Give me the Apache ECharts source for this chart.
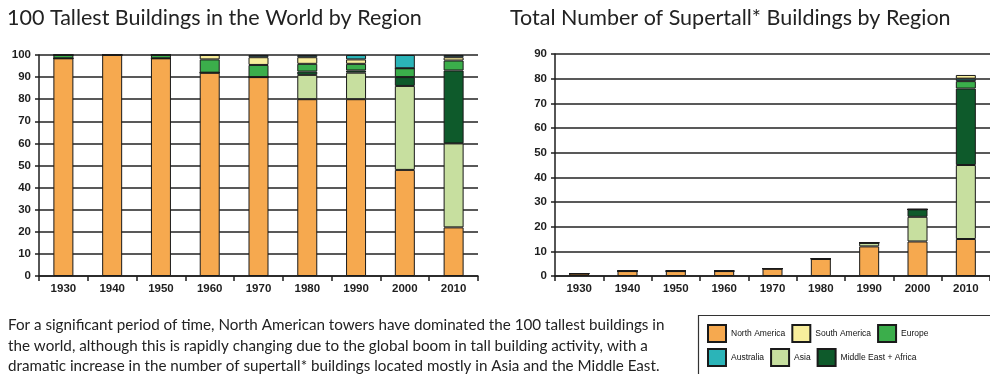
<!DOCTYPE html>
<html>
<head>
<meta charset="utf-8">
<script src="https://cdn.jsdelivr.net/npm/echarts@6/dist/echarts.min.js"></script>
<style>
  html, body { margin: 0; padding: 0; background: #fff; }
  #chart { width: 990px; height: 374px; }
</style>
</head>
<body>
<div id="chart"></div>
<script>
// Decades shown on both charts
const decades = ['1930', '1940', '1950', '1960', '1970', '1980', '1990', '2000', '2010'];

// Share (%) of the 100 tallest buildings, by region
const shareNorthAmerica = [98.5, 100, 98.5, 92, 90, 80, 80, 48, 22];
const shareAsia         = [0, 0, 0, 0, 0, 11, 12, 38, 38];
const shareMiddleEast   = [0, 0, 0, 0, 0, 1.5, 1, 4, 33];
const shareEurope       = [1.5, 0, 1.5, 6, 5.5, 3.5, 3, 4, 4.5];
const shareSouthAmerica = [0, 0, 0, 2, 3.5, 3, 2, 0, 1.5];
const shareAustralia    = [0, 0, 0, 0, 1, 1, 2, 6, 1];

// Number of supertall buildings, by region
const countNorthAmerica = [1, 2, 2, 2, 3, 7, 12, 14, 15];
const countAsia         = [0, 0, 0, 0, 0, 0, 1.5, 10, 30];
const countMiddleEast   = [0, 0, 0, 0, 0, 0, 0, 3, 31];
const countEurope       = [0, 0, 0, 0, 0, 0, 0, 0, 3];
const countAustralia    = [0, 0, 0, 0, 0, 0, 0, 0, 1];
const countSouthAmerica = [0, 0, 0, 0, 0, 0, 0, 0, 1.5];

const shareTicks = [0, 10, 20, 30, 40, 50, 60, 70, 80, 90, 100];
const countTicks = [0, 10, 20, 30, 40, 50, 60, 70, 80, 90];

const regions = {
  na:  { name: 'North America',        color: '#F6A94F' },
  sa:  { name: 'South America',        color: '#F8EE9C' },
  eu:  { name: 'Europe',               color: '#3BAE4B' },
  au:  { name: 'Australia',            color: '#2BB4B8' },
  as:  { name: 'Asia',                 color: '#C7DF9F' },
  me:  { name: 'Middle East + Africa', color: '#0E5A2B' }
};

const titleLeft = '100 Tallest Buildings in the World by Region';
const titleRight = 'Total Number of Supertall* Buildings by Region';
const noteLines = [
  'For a significant period of time, North American towers have dominated the 100 tallest buildings in',
  'the world, although this is rapidly changing due to the global boom in tall building activity, with a',
  'dramatic increase in the number of supertall* buildings located mostly in Asia and the Middle East.'
];

const ink = '#1e1e1e';
const axisFont = { color: ink, fontFamily: 'Liberation Sans, Arial, sans-serif', fontWeight: 'bold', fontSize: 11.5 };

function bar(key, data, axis, stack) {
  return {
    type: 'bar',
    name: regions[key].name,
    data: data,
    xAxisIndex: axis,
    yAxisIndex: axis,
    stack: stack,
    barWidth: 20,
    itemStyle: { color: regions[key].color, borderColor: '#1a1a1a', borderWidth: 1 },
    emphasis: { disabled: true },
    animation: false
  };
}

function xAxis(grid) {
  return {
    type: 'category',
    gridIndex: grid,
    data: decades,
    axisLine: { lineStyle: { color: ink, width: 1.5 } },
    axisTick: { show: true, length: 5, lineStyle: { color: ink, width: 1.5 } },
    axisLabel: Object.assign({ margin: 7 }, axisFont)
  };
}

function yAxis(grid, ticks) {
  return {
    type: 'value',
    gridIndex: grid,
    min: ticks[0],
    max: ticks[ticks.length - 1],
    interval: ticks[1] - ticks[0],
    axisLine: { show: true, lineStyle: { color: ink, width: 1.5 } },
    axisTick: { show: true, length: 4, lineStyle: { color: ink, width: 1.5 } },
    splitLine: { lineStyle: { color: '#222', width: 1.5 } },
    axisLabel: Object.assign({ margin: 8 }, axisFont)
  };
}

const titleFont = { fontFamily: 'Lato, sans-serif', fontSize: 21.5, fill: '#222' };
const noteFont = { fontFamily: 'Lato, sans-serif', fontSize: 15.2, fill: '#222' };

const legendText = { fontFamily: 'Liberation Sans, Arial, sans-serif', fontSize: 8.5, color: '#111', width: 62, letterSpacing: -0.3 };

const option = {
  backgroundColor: '#fff',
  animation: false,
  grid: [
    { left: 39, top: 55, width: 439, height: 221 },
    { left: 555, top: 54, width: 441, height: 222 }
  ],
  xAxis: [xAxis(0), xAxis(1)],
  yAxis: [yAxis(0, shareTicks), yAxis(1, countTicks)],
  legend: [
    {
      left: 707, top: 324, itemWidth: 18, itemHeight: 17, itemGap: 6, selectedMode: false,
      icon: 'rect', textStyle: legendText, padding: 0,
      data: [regions.na.name, regions.sa.name, regions.eu.name]
    },
    {
      left: 707, top: 348, itemWidth: 18, itemHeight: 17, itemGap: 6, selectedMode: false,
      icon: 'rect', textStyle: legendText, padding: 0,
      data: [regions.au.name, regions.as.name, regions.me.name]
    }
  ],
  graphic: [
    { type: 'text', left: 7, top: 7, style: Object.assign({ text: titleLeft }, titleFont) },
    { type: 'text', left: 510, top: 7, style: Object.assign({ text: titleRight }, titleFont) },
    { type: 'text', left: 8, top: 315, style: Object.assign({ text: noteLines.join('\n'), lineHeight: 20.5 }, noteFont) },
    { type: 'rect', shape: { x: 698.5, y: 315.5, width: 320, height: 80 }, style: { fill: 'none', stroke: '#333', lineWidth: 1.2 }, z: -1 }
  ],
  series: [
    bar('na', shareNorthAmerica, 0, 'share'),
    bar('as', shareAsia, 0, 'share'),
    bar('me', shareMiddleEast, 0, 'share'),
    bar('eu', shareEurope, 0, 'share'),
    bar('sa', shareSouthAmerica, 0, 'share'),
    bar('au', shareAustralia, 0, 'share'),

    bar('na', countNorthAmerica, 1, 'count'),
    bar('as', countAsia, 1, 'count'),
    bar('me', countMiddleEast, 1, 'count'),
    bar('eu', countEurope, 1, 'count'),
    bar('au', countAustralia, 1, 'count'),
    bar('sa', countSouthAmerica, 1, 'count')
  ]
};

const chart = echarts.init(document.getElementById('chart'), null, { renderer: 'canvas' });
chart.setOption(option);
</script>
</body>
</html>
